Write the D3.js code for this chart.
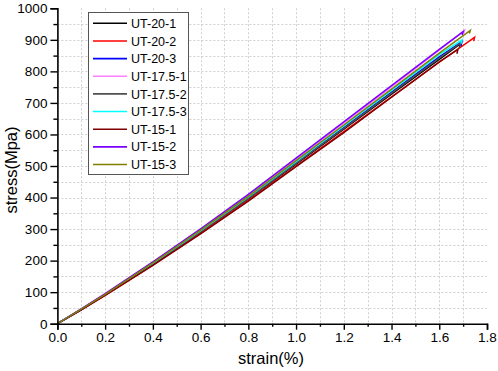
<!DOCTYPE html>
<html><head><meta charset="utf-8">
<script src="https://cdn.jsdelivr.net/npm/d3@7/dist/d3.min.js"></script>
<style>
body{margin:0;background:#fff;}
svg{display:block;font-family:"Liberation Sans",Arial,sans-serif;}
</style></head>
<body><svg id="c" width="498" height="371"></svg>
<script>
// ---- data ----
const seriesNames = ["UT-20-1","UT-20-2","UT-20-3","UT-17.5-1","UT-17.5-2","UT-17.5-3","UT-15-1","UT-15-2","UT-15-3"];
const seriesColors = ["#000000","#ff0000","#0000ff","#ff80ff","#505050","#00ffff","#800000","#7b00ff","#808000"];
const strainGrid = [0, 0.1, 0.2, 0.4, 0.6, 0.8, 1.0, 1.2, 1.4, 1.6];
const stressUT20_1   = [0, 45, 92, 189, 291, 396, 506, 617, 728, 838];
const stressUT20_2   = [0, 44, 90, 186, 287, 391, 500, 609, 719, 829];
const stressUT20_3   = [0, 45, 92, 190, 293, 399, 510, 622, 734, 846];
const stressUT17_5_1 = [0, 46, 94, 194, 299, 407, 521, 636, 751, 867];
const stressUT17_5_2 = [0, 45, 92, 190, 292, 397, 508, 619, 731, 842];
const stressUT17_5_3 = [0, 46, 93, 192, 295, 402, 514, 627, 740, 853];
const stressUT15_1   = [0, 44, 90, 185, 285, 389, 498, 606, 718, 830];
const stressUT15_2   = [0, 47, 95, 196, 301, 410, 525, 640, 755, 870];
const stressUT15_3   = [0, 46, 93, 193, 297, 404, 517, 630, 744, 858];
const peakStrain = [1.688, 1.748, 1.695, 1.706, 1.690, 1.695, 1.678, 1.700, 1.730];
const peakStress = [887, 908, 894, 930, 890, 900, 870, 926, 930];
const dropStress = [874, 896, 880, 920, 878, 888, 856, 915, 920];
const xTicks = [0.0, 0.2, 0.4, 0.6, 0.8, 1.0, 1.2, 1.4, 1.6, 1.8];
const yTicks = [0, 100, 200, 300, 400, 500, 600, 700, 800, 900, 1000];
const xTitle = "strain(%)";
const yTitle = "stress(Mpa)";

const stressSets = [stressUT20_1, stressUT20_2, stressUT20_3, stressUT17_5_1, stressUT17_5_2, stressUT17_5_3, stressUT15_1, stressUT15_2, stressUT15_3];

// ---- layout ----
const svg = d3.select("#c");
const L = 57.4, R = 487, T = 8.3, B = 323.7;
const x = d3.scaleLinear().domain([0, 1.8]).range([L, R]);
const y = d3.scaleLinear().domain([0, 1000]).range([B, T]);

// grid
const gx = d3.range(1, 18).map(i => i / 10);
const gy = d3.range(1, 20).map(i => i * 50);
const grid = svg.append("g").attr("stroke", "#cfcfcf").attr("stroke-width", 1).attr("stroke-dasharray", "2,2");
grid.selectAll("line.v").data(gx).join("line").attr("class","v")
  .attr("x1", d => Math.round(x(d)) + 0.5).attr("x2", d => Math.round(x(d)) + 0.5)
  .attr("y1", T).attr("y2", B);
grid.selectAll("line.h").data(gy).join("line").attr("class","h")
  .attr("y1", d => Math.round(y(d)) + 0.5).attr("y2", d => Math.round(y(d)) + 0.5)
  .attr("x1", L).attr("x2", R);

// lines
const line = d3.line().x(d => x(d[0])).y(d => y(d[1]));
stressSets.forEach((s, i) => {
  const pts = strainGrid.map((e, j) => [e, s[j]]);
  pts.push([peakStrain[i], peakStress[i]]);
  pts.push([peakStrain[i] - 0.004, dropStress[i]]);
  svg.append("path").datum(pts).attr("d", line)
    .attr("fill", "none").attr("stroke", seriesColors[i]).attr("stroke-width", 1.5)
    .attr("stroke-linejoin", "miter");
});

// axes
const xAxis = svg.append("g").attr("transform", `translate(0,${B})`)
  .call(d3.axisBottom(x).tickValues(xTicks).tickFormat(d3.format(".1f")).tickSize(6).tickPadding(3));
const xMinor = svg.append("g").attr("transform", `translate(0,${B})`)
  .call(d3.axisBottom(x).tickValues(d3.range(1, 18, 2).map(i => i / 10)).tickFormat("").tickSize(3));
const yAxis = svg.append("g").attr("transform", `translate(${L},0)`)
  .call(d3.axisLeft(y).tickValues(yTicks).tickFormat(d3.format("d")).tickSize(7).tickPadding(3));
const yMinor = svg.append("g").attr("transform", `translate(${L},0)`)
  .call(d3.axisLeft(y).tickValues(d3.range(1, 20, 2).map(i => i * 50)).tickFormat("").tickSize(4));
[xAxis, xMinor, yAxis, yMinor].forEach(g => {
  g.select(".domain").attr("stroke", "#000").attr("stroke-width", 1.6);
  g.selectAll(".tick line").attr("stroke", "#000").attr("stroke-width", 1.4);
  g.selectAll(".tick text").attr("font-size", 13.5).attr("fill", "#000")
    .attr("font-family", '"Liberation Sans",Arial,sans-serif');
});
xMinor.select(".domain").remove(); yMinor.select(".domain").remove();

svg.append("text").attr("x", 271).attr("y", 364).attr("text-anchor", "middle")
  .attr("font-size", 16.5).text(xTitle);
svg.append("text").attr("transform", "translate(17,170) rotate(-90)").attr("text-anchor", "middle")
  .attr("font-size", 16.5).text(yTitle);

// legend
const lg = svg.append("g");
lg.append("rect").attr("x", 88.5).attr("y", 12.5).attr("width", 100).attr("height", 162)
  .attr("fill", "#fff").attr("stroke", "#555").attr("stroke-width", 1);
seriesNames.forEach((n, i) => {
  const cy = 23.3 + i * 17.65;
  lg.append("line").attr("x1", 93).attr("x2", 127).attr("y1", cy).attr("y2", cy)
    .attr("stroke", seriesColors[i]).attr("stroke-width", 1.6);
  lg.append("text").attr("x", 131).attr("y", cy + 4.6).attr("font-size", 12.5).attr("fill", "#000").text(n);
});
</script></body></html>
